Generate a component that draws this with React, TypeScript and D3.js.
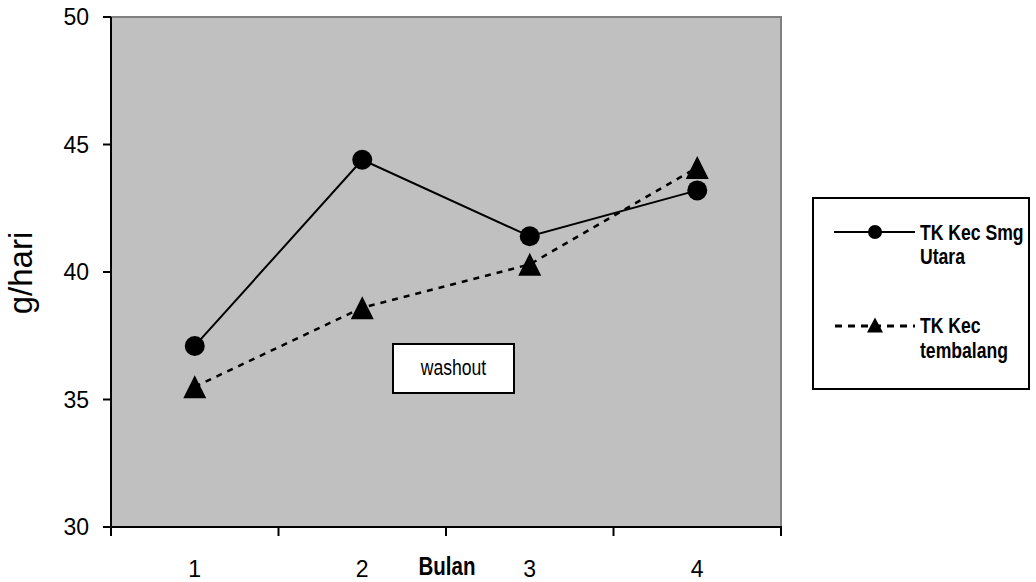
import React from "react";
import * as d3 from "d3";

// Monthly values (g/hari)
const months = ["1", "2", "3", "4"];
const seriesNames = ["TK Kec Smg Utara", "TK Kec tembalang"];
const smgUtara = [37.1, 44.4, 41.4, 43.2];
const tembalang = [35.5, 38.6, 40.3, 44.1];
const yTicks = [30, 35, 40, 45, 50];

const W = 1036;
const H = 582;
const plot = { left: 111, right: 781, top: 17, bottom: 527 };

const FONT = "'Liberation Sans', Arial, sans-serif";

function triPath(cx: number, cy: number, w: number, h: number) {
  return `M${cx},${cy - h / 2}L${cx + w / 2},${cy + h / 2}L${cx - w / 2},${cy + h / 2}Z`;
}

export default function App() {
  const x = d3.scaleBand<string>().domain(months).range([plot.left, plot.right]);
  const y = d3.scaleLinear().domain([30, 50]).range([plot.bottom, plot.top]);
  const cx = (m: string) => (x(m) as number) + x.bandwidth() / 2;

  const line = d3
    .line<number>()
    .x((_, i) => cx(months[i]))
    .y((v) => y(v));

  const boundaries = [...months.map((m) => x(m) as number), plot.right];

  return (
    <svg
      width={W}
      height={H}
      style={{ position: "absolute", left: 0, top: 0, display: "block" }}
      fontFamily={FONT}
    >
      <rect x={0} y={0} width={W} height={H} fill="#ffffff" />
      {/* plot area */}
      <rect
        x={plot.left}
        y={plot.top}
        width={plot.right - plot.left}
        height={plot.bottom - plot.top}
        fill="#c0c0c0"
      />
      <path
        d={`M${plot.left},${plot.top}H${plot.right}V${plot.bottom}`}
        fill="none"
        stroke="#808080"
        strokeWidth={2}
      />

      {/* series: dashed triangle line */}
      <path
        d={line(tembalang) as string}
        fill="none"
        stroke="#000"
        strokeWidth={2.5}
        strokeDasharray="6,6"
      />
      {/* series: solid circle line */}
      <path d={line(smgUtara) as string} fill="none" stroke="#000" strokeWidth={2} />

      {tembalang.map((v, i) => (
        <path key={"t" + i} d={triPath(cx(months[i]), y(v), 23, 23)} fill="#000" />
      ))}
      {smgUtara.map((v, i) => (
        <circle key={"c" + i} cx={cx(months[i])} cy={y(v)} r={10} fill="#000" />
      ))}

      {/* axes */}
      <line x1={plot.left} x2={plot.left} y1={plot.top} y2={plot.bottom} stroke="#000" strokeWidth={2} />
      <line x1={plot.left - 1} x2={plot.right + 1} y1={plot.bottom} y2={plot.bottom} stroke="#000" strokeWidth={2} />
      {yTicks.map((t) => (
        <g key={"y" + t}>
          <line x1={plot.left - 8} x2={plot.left} y1={y(t)} y2={y(t)} stroke="#000" strokeWidth={2} />
          <text x={89} y={y(t) + 8} textAnchor="end" fontSize={23} fill="#000">
            {t}
          </text>
        </g>
      ))}
      {boundaries.map((b, i) => (
        <line key={"xb" + i} x1={b} x2={b} y1={plot.bottom} y2={plot.bottom + 9} stroke="#000" strokeWidth={2} />
      ))}
      {months.map((m) => (
        <text key={"xl" + m} x={cx(m)} y={577} textAnchor="middle" fontSize={23} fill="#000">
          {m}
        </text>
      ))}

      {/* axis titles */}
      <text
        transform={`translate(447,575) scale(0.82,1)`}
        textAnchor="middle"
        fontSize={25}
        fontWeight="bold"
        fill="#000"
      >
        Bulan
      </text>
      <text
        transform={`translate(32,273) rotate(-90)`}
        textAnchor="middle"
        fontSize={33}
        fill="#000"
      >
        g/hari
      </text>

      {/* annotation */}
      <rect x={393} y={344} width={121} height={49} fill="#fff" stroke="#000" strokeWidth={2} />
      <text
        transform={`translate(453.5,375) scale(0.8,1)`}
        textAnchor="middle"
        fontSize={22}
        fill="#000"
      >
        washout
      </text>

      {/* legend */}
      <rect x={813} y={198} width={216} height={191} fill="#fff" stroke="#000" strokeWidth={2} />
      <line x1={834} x2={915} y1={232} y2={232} stroke="#000" strokeWidth={2} />
      <circle cx={875} cy={232} r={7} fill="#000" />
      <text transform={`translate(920,240) scale(0.8,1)`} fontSize={22} fontWeight="bold" fill="#000">
        TK Kec Smg
      </text>
      <text transform={`translate(920,264) scale(0.8,1)`} fontSize={22} fontWeight="bold" fill="#000">
        Utara
      </text>
      <line x1={835} x2={915} y1={326} y2={326} stroke="#000" strokeWidth={3} strokeDasharray="7,6" />
      <path d={triPath(875, 325, 16, 15)} fill="#000" />
      <text transform={`translate(920,333) scale(0.8,1)`} fontSize={22} fontWeight="bold" fill="#000">
        TK Kec
      </text>
      <text transform={`translate(920,358) scale(0.8,1)`} fontSize={22} fontWeight="bold" fill="#000">
        tembalang
      </text>
      <title>{seriesNames.join(" / ")}</title>
    </svg>
  );
}
